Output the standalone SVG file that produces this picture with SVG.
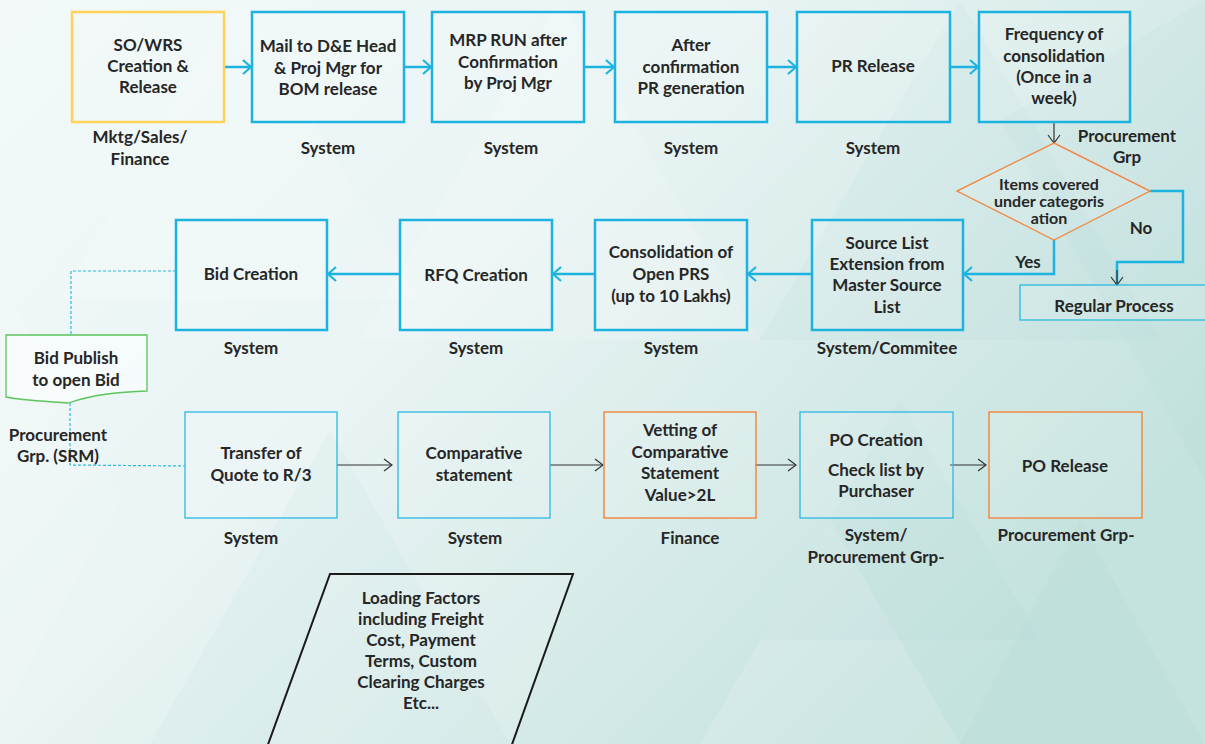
<svg xmlns="http://www.w3.org/2000/svg" width="1205" height="744" viewBox="0 0 1205 744">
  <defs>
    <linearGradient id="bg" x1="0" y1="0" x2="1" y2="0.6">
      <stop offset="0" stop-color="#f3f9f9"/>
      <stop offset="0.45" stop-color="#e9f4f4"/>
      <stop offset="1" stop-color="#c4e2de"/>
    </linearGradient>
    <marker id="arrBlue" viewBox="0 0 10 16" refX="9" refY="8" markerWidth="10" markerHeight="16" markerUnits="userSpaceOnUse" orient="auto">
      <path d="M1,1 L9,8 L1,15" fill="none" stroke="#1db3e1" stroke-width="2.2"/>
    </marker>
    <marker id="arrDark" viewBox="0 0 10 14" refX="9" refY="7" markerWidth="10" markerHeight="14" markerUnits="userSpaceOnUse" orient="auto">
      <path d="M1,1 L9,7 L1,13" fill="none" stroke="#333" stroke-width="1.2"/>
    </marker>
    <style>
      text { font-family: "Lato", "Open Sans", "Liberation Sans", sans-serif; font-weight: bold; font-size: 17px; fill: #262626; text-anchor: middle; }
      .dia { font-size: 16px; }
      .box { fill: #ffffff; fill-opacity: 0.12; stroke: #1db3e1; stroke-width: 2.5; }
      .thin { fill: #ffffff; fill-opacity: 0.12; stroke: #2bb8e2; stroke-width: 1.3; }
      .yel { fill: #ffffff; fill-opacity: 0.12; stroke: #ffd25c; stroke-width: 2.5; }
      .org { fill: #ffffff; fill-opacity: 0.12; stroke: #f08a45; stroke-width: 1.5; }
      .flowB { fill: none; stroke: #1db3e1; stroke-width: 2.5; marker-end: url(#arrBlue); }
      .flowD { fill: none; stroke: #333; stroke-width: 1.2; marker-end: url(#arrDark); }
      .dash { fill: none; stroke: #2bb8e2; stroke-width: 1.2; stroke-dasharray: 3 2; }
      .tri { fill: #ffffff; opacity: 0.14; }
      .trid { fill: #9fd0cb; opacity: 0.08; }
    </style>
  </defs>

  <!-- background -->
  <rect width="1205" height="744" fill="url(#bg)"/>
  <g id="pattern">
    <polygon class="tri" points="0,280 120,500 0,720"/>
    <polygon class="trid" points="150,744 330,430 510,744"/>
    <polygon class="tri" points="560,0 760,340 360,340"/>
    <polygon class="trid" points="760,340 960,0 1160,340"/>
    <polygon class="trid" points="960,744 1080,520 1205,744"/>
    <polygon class="tri" points="700,744 830,520 960,744"/>
    <polygon class="trid" points="1000,120 1205,0 1205,480"/>
    <polygon class="trid" points="900,400 1040,640 760,640"/>
    <polygon class="tri" points="240,0 420,300 60,300"/>
  </g>

  <!-- connectors -->
  <g id="connectors">
    <line class="flowB" x1="224" y1="67" x2="251" y2="67"/>
    <line class="flowB" x1="404" y1="67" x2="431" y2="67"/>
    <line class="flowB" x1="584" y1="67" x2="614" y2="67"/>
    <line class="flowB" x1="767" y1="67" x2="796" y2="67"/>
    <line class="flowB" x1="950" y1="67" x2="978" y2="67"/>
    <line class="flowD" x1="1054" y1="122" x2="1054" y2="143"/>
    <polyline class="flowB" points="1054,240 1054,274 964,274"/>
    <polyline points="1150,191 1183,191 1183,262 1117,262 1117,285" fill="none" stroke="#1db3e1" stroke-width="2.5"/>
    <line class="flowD" x1="1117" y1="270" x2="1117" y2="285"/>
    <line class="flowB" x1="812" y1="274" x2="748" y2="274"/>
    <line class="flowB" x1="595" y1="274" x2="553" y2="274"/>
    <line class="flowB" x1="400" y1="274" x2="328" y2="274"/>
    <polyline class="dash" points="176,271 71,271 71,335"/>
    <polyline class="dash" points="70,403 70,465 185,466"/>
    <line class="flowD" x1="337" y1="465" x2="392" y2="465"/>
    <line class="flowD" x1="550" y1="465" x2="603" y2="465"/>
    <line class="flowD" x1="755" y1="465" x2="796" y2="465"/>
    <line class="flowD" x1="950" y1="465" x2="986" y2="465"/>
  </g>

  <!-- top row -->
  <g id="so-wrs">
    <rect class="yel" x="72" y="12" width="152" height="110"/>
    <text x="148" y="51">SO/WRS</text>
    <text x="148" y="72">Creation &amp;</text>
    <text x="148" y="93">Release</text>
    <text x="140" y="143">Mktg/Sales/</text>
    <text x="140" y="165">Finance</text>
  </g>
  <g id="mail-bom">
    <rect class="box" x="252" y="12" width="152" height="110"/>
    <text x="328" y="52">Mail to D&amp;E Head</text>
    <text x="328" y="74">&amp; Proj Mgr for</text>
    <text x="328" y="95">BOM release</text>
    <text x="328" y="154">System</text>
  </g>
  <g id="mrp-run">
    <rect class="box" x="432" y="12" width="152" height="110"/>
    <text x="508" y="46">MRP RUN after</text>
    <text x="508" y="68">Confirmation</text>
    <text x="508" y="89">by Proj Mgr</text>
    <text x="511" y="154">System</text>
  </g>
  <g id="pr-generation">
    <rect class="box" x="615" y="12" width="152" height="110"/>
    <text x="691" y="51">After</text>
    <text x="691" y="73">confirmation</text>
    <text x="691" y="94">PR generation</text>
    <text x="691" y="154">System</text>
  </g>
  <g id="pr-release">
    <rect class="box" x="797" y="12" width="153" height="110"/>
    <text x="873" y="72">PR Release</text>
    <text x="873" y="154">System</text>
  </g>
  <g id="frequency">
    <rect class="box" x="979" y="12" width="151" height="110"/>
    <text x="1054" y="40">Frequency of</text>
    <text x="1054" y="62">consolidation</text>
    <text x="1054" y="83">(Once in a</text>
    <text x="1054" y="104">week)</text>
    <text x="1127" y="142">Procurement</text>
    <text x="1127" y="163">Grp</text>
  </g>

  <!-- decision -->
  <g id="categorisation">
    <polygon points="1054,143 1150,191 1054,240 957,191" fill="#ffffff" fill-opacity="0.1" stroke="#f08a45" stroke-width="1.4"/>
    <text class="dia" x="1049" y="190">Items covered</text>
    <text class="dia" x="1049" y="207">under categoris</text>
    <text class="dia" x="1049" y="224">ation</text>
    <text x="1141" y="234">No</text>
    <text x="1028" y="268">Yes</text>
  </g>
  <g id="regular-process">
    <rect class="thin" x="1020" y="285" width="200" height="35"/>
    <text x="1114" y="312">Regular Process</text>
  </g>

  <!-- middle row -->
  <g id="source-list">
    <rect class="box" x="812" y="220" width="151" height="110"/>
    <text x="887" y="249">Source List</text>
    <text x="887" y="270">Extension from</text>
    <text x="887" y="291">Master Source</text>
    <text x="887" y="313">List</text>
    <text x="887" y="354">System/Commitee</text>
  </g>
  <g id="consolidation">
    <rect class="box" x="595" y="220" width="152" height="110"/>
    <text x="671" y="258">Consolidation of</text>
    <text x="671" y="280">Open PRS</text>
    <text x="671" y="302">(up to 10  Lakhs)</text>
    <text x="671" y="354">System</text>
  </g>
  <g id="rfq-creation">
    <rect class="box" x="400" y="220" width="152" height="110"/>
    <text x="476" y="281">RFQ Creation</text>
    <text x="476" y="354">System</text>
  </g>
  <g id="bid-creation">
    <rect class="box" x="176" y="220" width="151" height="110"/>
    <text x="251" y="280">Bid Creation</text>
    <text x="251" y="354">System</text>
  </g>
  <g id="bid-publish">
    <path d="M6,335 L147,335 L147,391 C120,392 95,394 68,403 C40,401 18,400 6,397 Z" fill="#ffffff" fill-opacity="0.5" stroke="#5cc45c" stroke-width="1.3"/>
    <text x="76" y="364">Bid Publish</text>
    <text x="76" y="386">to open Bid</text>
    <text x="58" y="441">Procurement</text>
    <text x="58" y="462">Grp. (SRM)</text>
  </g>

  <!-- bottom row -->
  <g id="transfer-quote">
    <rect class="thin" x="185" y="412" width="152" height="106"/>
    <text x="261" y="459">Transfer of</text>
    <text x="261" y="481">Quote to R/3</text>
    <text x="251" y="544">System</text>
  </g>
  <g id="comparative">
    <rect class="thin" x="398" y="412" width="152" height="106"/>
    <text x="474" y="459">Comparative</text>
    <text x="474" y="481">statement</text>
    <text x="475" y="544">System</text>
  </g>
  <g id="vetting">
    <rect class="org" x="604" y="412" width="152" height="106"/>
    <text x="680" y="436">Vetting of</text>
    <text x="680" y="458">Comparative</text>
    <text x="680" y="479">Statement</text>
    <text x="680" y="501">Value&gt;2L</text>
    <text x="690" y="544">Finance</text>
  </g>
  <g id="po-creation">
    <rect class="thin" x="800" y="412" width="153" height="106"/>
    <text x="876" y="446">PO Creation</text>
    <text x="876" y="476">Check list by</text>
    <text x="876" y="497">Purchaser</text>
    <text x="876" y="541">System/</text>
    <text x="876" y="563">Procurement Grp-</text>
  </g>
  <g id="po-release">
    <rect class="org" x="989" y="412" width="153" height="106"/>
    <text x="1065" y="472">PO Release</text>
    <text x="1066" y="541">Procurement Grp-</text>
  </g>

  <!-- loading factors -->
  <g id="loading-factors">
    <polygon points="330,574 573,574 510,750 266,750" fill="#ffffff" fill-opacity="0.15" stroke="#1a1a1a" stroke-width="2"/>
    <text x="421" y="604">Loading Factors</text>
    <text x="421" y="625">including Freight</text>
    <text x="421" y="646">Cost, Payment</text>
    <text x="421" y="667">Terms, Custom</text>
    <text x="421" y="688">Clearing Charges</text>
    <text x="421" y="709">Etc...</text>
  </g>
</svg>
